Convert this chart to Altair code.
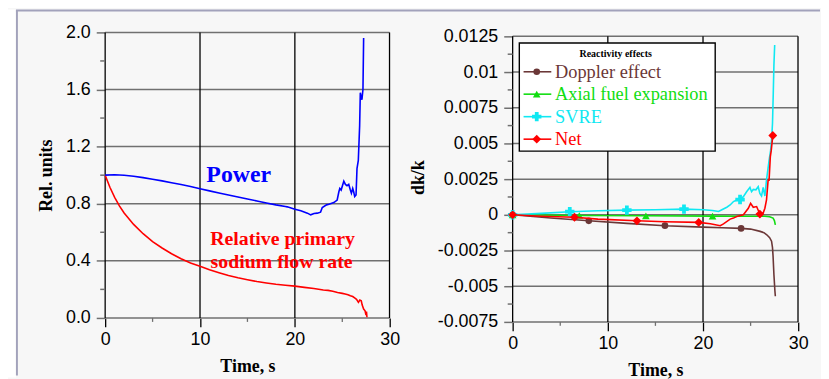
import altair as alt
import pandas as pd

# ---------------- Left panel data ----------------
power_t = [0, 1, 2, 3, 4, 5, 6, 7, 8, 9, 10, 11, 12, 13, 14, 15, 16, 17, 18, 19, 19.2, 20, 20.63,
           21.32, 21.67, 22.02, 22.37, 22.71, 22.89, 23.34, 23.59, 24.11, 24.46, 24.64, 24.74,
           24.88, 25.16, 25.33, 25.5, 25.68, 25.85, 25.96, 26.1, 26.2, 26.31, 26.45, 26.55,
           26.69, 26.83, 26.9, 27.0, 27.07, 27.18, 27.25]
power_v = [1.0, 1.003, 1.0, 0.993, 0.983, 0.972, 0.96, 0.947, 0.934, 0.92, 0.905, 0.89, 0.875,
           0.861, 0.847, 0.833, 0.819, 0.805, 0.792, 0.781, 0.778, 0.762, 0.75,
           0.734, 0.722, 0.731, 0.734, 0.741, 0.773, 0.792, 0.796, 0.808, 0.826, 0.884, 0.907,
           0.896, 0.958, 0.935, 0.926, 0.935, 0.896, 0.873, 0.907, 0.884, 0.85, 0.861, 1.046,
           1.104, 1.347, 1.578, 1.544, 1.528, 1.602, 1.96]

flow_t = [0, 0.5, 1, 1.5, 2, 3, 4, 5, 6, 7, 8, 9, 10, 11, 12, 13, 14, 15, 16, 17, 18, 19, 20,
          21, 22, 23, 23.5, 24, 24.5, 25, 25.3, 25.6, 25.85, 26.1, 26.3, 26.5, 26.7, 26.85,
          27.0, 27.1, 27.25, 27.4, 27.5, 27.55, 27.6]
flow_v = [1.0, 0.915, 0.845, 0.785, 0.735, 0.655, 0.59, 0.535, 0.49, 0.45, 0.415, 0.385, 0.362,
          0.338, 0.317, 0.297, 0.281, 0.268, 0.255, 0.245, 0.236, 0.229, 0.223,
          0.214, 0.206, 0.196, 0.193, 0.187, 0.178, 0.172, 0.168, 0.163, 0.155, 0.15, 0.14,
          0.13, 0.109, 0.125, 0.12, 0.09, 0.062, 0.05, 0.02, 0.045, 0.005]

# ---------------- Right panel data ----------------
dop_t = [0, 4, 8, 12, 16, 20, 22, 24, 25, 26, 26.4, 26.7, 27.0, 27.2, 27.3, 27.36, 27.45, 27.55, 27.6]
dop_v = [0, -0.00022, -0.00042, -0.0006, -0.00076, -0.00086, -0.0009, -0.00095, -0.001,
         -0.00116, -0.00125, -0.0014, -0.0016, -0.00185, -0.0023, -0.0029, -0.0042, -0.0053, -0.0057]
dop_mk_t = [0, 8, 16, 24]
dop_mk_v = [0, -0.00042, -0.00076, -0.00095]

axial_t = [0, 7, 14, 21, 25, 26.5, 27.0, 27.36, 27.5, 27.6]
axial_v = [0, -0.00005, -0.00007, -0.00009, -0.0001, -0.0001, -0.00013, -0.00023, -0.0004, -0.0007]
axial_mk_t = [0, 7, 14, 21]
axial_mk_v = [0, -0.00005, -0.00007, -0.00009]

svre_t = [0, 3, 6, 9, 12, 15, 18, 20.07, 21.0, 21.63, 21.98, 22.5, 22.85, 23.2, 23.54, 23.89,
          24.24, 24.58, 24.76, 24.93, 25.1, 25.28, 25.56, 25.8, 25.97, 26.15, 26.32, 26.5,
          26.67, 26.94, 27.1, 27.2, 27.3, 27.38, 27.45, 27.53]
svre_v = [0, 0.0001, 0.00022, 0.00028, 0.00033, 0.00036, 0.0004, 0.00035, 0.0003, 0.00023,
          0.00035, 0.00053, 0.00069, 0.00093, 0.00104, 0.00109, 0.00127, 0.00162, 0.00178,
          0.00192, 0.00162, 0.00178, 0.00175, 0.00197, 0.0015, 0.00132, 0.00192, 0.00132,
          0.00243, 0.00382, 0.0045, 0.0052, 0.0064, 0.0085, 0.0105, 0.0119]
svre_mk_t = [0, 6, 12, 18, 23.89]
svre_mk_v = [0, 0.00022, 0.00033, 0.0004, 0.00107]

net_t = [0, 3, 6.5, 8.96, 13.06, 16, 19.55, 20.77, 21.81, 22.15, 22.85, 23.2, 23.54, 24.24,
         24.76, 25.0, 25.28, 25.63, 25.97, 26.32, 26.5, 26.67, 26.84, 26.94, 27.07, 27.17, 27.33]
net_v = [0, -0.0001, -0.00017, -0.0003, -0.00042, -0.00048, -0.00053, -0.00063, -0.00076,
         -0.00063, -0.0003, -0.00023, -0.00012, 0.0, 0.00046, 0.0008, 0.00053, 0.00058,
         0.00005, 0.00012, 0.00046, 0.00104, 0.00243, 0.00243, 0.00405, 0.00451, 0.00556]
net_mk_t = [0, 6.5, 13.06, 19.55, 25.97, 27.33]
net_mk_v = [0, -0.00017, -0.00042, -0.00053, 0.00005, 0.00556]

series_names = ["Doppler effect", "Axial fuel expansion", "SVRE", "Net"]
series_colors = ["#6b3737", "#11dd11", "#10e8f2", "#ff0000"]
series_shapes = ["circle", "triangle-up", "cross", "diamond"]
series_sizes = [45, 60, 90, 80]

# tick values
left_y_major = [0.0, 0.4, 0.8, 1.2, 1.6, 2.0]
left_y_minor = [0.2, 0.6, 1.0, 1.4, 1.8]
right_y_major = [-0.0075, -0.005, -0.0025, 0, 0.0025, 0.005, 0.0075, 0.01, 0.0125]
right_y_labels = ["-0.0075", "-0.005", "-0.0025", "0", "0.0025", "0.005", "0.0075", "0.01", "0.0125"]
right_y_minor = [-0.00625, -0.00375, -0.00125, 0.00125, 0.00375, 0.00625, 0.00875, 0.01125]
x_major = [0, 10, 20, 30]
x_minor = [5, 15, 25]
# grid segments along x (split, the last one stopping a hair short of the edge)
grid_seg_lo = [0, 20]
grid_seg_hi = [20, 29.98]
vgrid_pos = [0, 10, 20, 29.98]

# ---------------- styling ----------------
GRID_GRAY = "#707070"
FRAME = "#a2a2bb"
LABEL_FONT = "Liberation Sans"
SERIF = "Liberation Serif"
L_W, L_H = 287, 288
R_W, R_H = 288, 292

def x_axis():
    return alt.Axis(
        values=x_major, grid=False, tickSize=9, tickColor="black", tickWidth=1.3,
        domain=False, labelFlush=False, labelOverlap=False,
        labelFont=LABEL_FONT, labelFontSize=18, labelColor="black", labelPadding=4,
        title="Time, s", titleFont=SERIF, titleFontSize=18, titleFontWeight="bold",
        titleColor="black", titlePadding=9)

def y_axis(values, title, fmt=None, expr=None):
    kw = {}
    if fmt is not None:
        kw["format"] = fmt
    if expr is not None:
        kw["labelExpr"] = expr
    return alt.Axis(
        values=values, grid=False, tickSize=9, tickColor=GRID_GRAY, tickWidth=1.5,
        domain=False, labelOverlap=False,
        labelFont=LABEL_FONT, labelFontSize=18, labelColor="black", labelPadding=6,
        title=title, titleFont=SERIF, titleFontSize=18, titleFontWeight="bold",
        titleColor="black", titlePadding=10, **kw)

R_YDOMAIN = [-0.0075, 0.0125 + 4 / 14400]
r_expr = ("['" + "','".join(right_y_labels) + "'][round((datum.value + 0.0075) * 400)]")

LX = alt.X("t:Q", scale=alt.Scale(domain=[0, 30], nice=False), axis=x_axis())
LY = alt.Y("v:Q", scale=alt.Scale(domain=[0, 2], nice=False),
           axis=y_axis(left_y_major, "Rel. units", fmt=".1f"))
RX = alt.X("t:Q", scale=alt.Scale(domain=[0, 30], nice=False), axis=x_axis())
RY = alt.Y("v:Q", scale=alt.Scale(domain=R_YDOMAIN, nice=False),
           axis=y_axis(right_y_major, "dk/k", expr=r_expr))

def tick_layers(X, Y, ymin, ymaj, ymin_vals, h):
    """grid rules + minor ticks, all placed through the scales"""
    rows = [(v, lo, hi) for v in ymaj for lo, hi in zip(grid_seg_lo, grid_seg_hi)]
    hg = alt.Chart(pd.DataFrame({"v": [r[0] for r in rows], "t": [r[1] for r in rows],
                                 "t2": [r[2] for r in rows]})).mark_rule(
        color=GRID_GRAY, strokeWidth=1.5).encode(x=X, x2="t2:Q", y=Y)
    vg = alt.Chart(pd.DataFrame({"t": vgrid_pos, "v": [ymin] * len(vgrid_pos),
                                 "hi": [ymaj[-1]] * len(vgrid_pos)})).mark_rule(
        color="black", strokeWidth=1.3).encode(x=X, y=Y, y2="hi:Q")
    ym = alt.Chart(pd.DataFrame({"v": ymin_vals})).mark_rule(
        color=GRID_GRAY, strokeWidth=1.5).encode(y=Y, x=alt.value(-5), x2=alt.value(0))
    xm = alt.Chart(pd.DataFrame({"t": x_minor})).mark_rule(
        color=GRID_GRAY, strokeWidth=1.3).encode(x=X, y=alt.value(h), y2=alt.value(h + 4))
    return [hg, vg, ym, xm]

# ---------------- Left panel ----------------
dummy = pd.DataFrame({"a": [0]})
frame_white = alt.Chart(dummy).mark_rect(color="white").encode(
    x=alt.value(-98), x2=alt.value(-90), y=alt.value(-23), y2=alt.value(348))
frame_left = alt.Chart(dummy).mark_rule(color=FRAME, strokeWidth=2).encode(
    x=alt.value(-89), y=alt.value(-22), y2=alt.value(346))
frame_top = alt.Chart(dummy).mark_rule(color=FRAME, strokeWidth=2).encode(
    x=alt.value(-90), x2=alt.value(721), y=alt.value(-22))

flow_df = pd.DataFrame({"t": flow_t, "v": flow_v})
power_df = pd.DataFrame({"t": power_t, "v": power_v})
flow_line = alt.Chart(flow_df).mark_line(color="#ff0000", strokeWidth=1.6).encode(x=LX, y=LY)
power_line = alt.Chart(power_df).mark_line(color="#0000ff", strokeWidth=1.6).encode(x=LX, y=LY)

power_lbl = pd.DataFrame({"t": [14.08], "v": [1.0], "txt": ["Power"]})
flow_lbl = pd.DataFrame({"t": [18.7, 18.6], "v": [0.556, 0.389],
                         "txt": ["Relative primary", "sodium flow rate"]})
power_text = alt.Chart(power_lbl).mark_text(
    font=SERIF, fontSize=24, fontWeight="bold", color="#0000ff").encode(x=LX, y=LY, text="txt:N")
flow_text = alt.Chart(flow_lbl).mark_text(
    font=SERIF, fontSize=20, fontWeight="bold", color="#ff0000").encode(x=LX, y=LY, text="txt:N")

left = alt.layer(frame_white, frame_left, frame_top,
                 *tick_layers(LX, LY, 0.0, left_y_major, left_y_minor, L_H),
                 flow_line, power_line, power_text, flow_text).properties(width=L_W, height=L_H)

# ---------------- Right panel ----------------
lines_df = pd.concat([
    pd.DataFrame({"t": dop_t, "v": dop_v, "s": series_names[0]}),
    pd.DataFrame({"t": axial_t, "v": axial_v, "s": series_names[1]}),
    pd.DataFrame({"t": svre_t, "v": svre_v, "s": series_names[2]}),
    pd.DataFrame({"t": net_t, "v": net_v, "s": series_names[3]}),
])
marks_df = pd.concat([
    pd.DataFrame({"t": dop_mk_t, "v": dop_mk_v, "s": series_names[0]}),
    pd.DataFrame({"t": axial_mk_t, "v": axial_mk_v, "s": series_names[1]}),
    pd.DataFrame({"t": svre_mk_t, "v": svre_mk_v, "s": series_names[2]}),
    pd.DataFrame({"t": net_mk_t, "v": net_mk_v, "s": series_names[3]}),
])

r_layers = tick_layers(RX, RY, -0.0075, right_y_major, right_y_minor, R_H)
for i, name in enumerate(series_names):
    r_layers.append(
        alt.Chart(lines_df[lines_df.s == name]).mark_line(
            color=series_colors[i], strokeWidth=1.6).encode(x=RX, y=RY))
    r_layers.append(
        alt.Chart(marks_df[marks_df.s == name]).mark_point(
            filled=True, opacity=1, shape=series_shapes[i], size=series_sizes[i],
            color=series_colors[i]).encode(x=RX, y=RY))

# manual legend (positions in data coordinates)
LEG_X0, LEG_X1 = 0.70, 21.28
LEG_Y0, LEG_Y1 = 0.004465, 0.012035
LEG_TITLE = (10.83, 0.01123)
LEG_ROWS = [0.01002, 0.008451, 0.006875, 0.005299]
LEG_LINE = (1.146, 4.06)
LEG_MARK_X = 2.53
LEG_TEXT_X = 4.45

box_df = pd.DataFrame({"t": [LEG_X0], "t2": [LEG_X1], "v": [LEG_Y0], "v2": [LEG_Y1]})
leg_box = alt.Chart(box_df).mark_rect(fill="white", stroke="black", strokeWidth=1.4).encode(
    x=RX, x2="t2:Q", y=RY, y2="v2:Q")
title_df = pd.DataFrame({"t": [LEG_TITLE[0]], "v": [LEG_TITLE[1]], "txt": ["Reactivity effects"]})
leg_title = alt.Chart(title_df).mark_text(
    font=SERIF, fontSize=10, fontWeight="bold", color="black").encode(x=RX, y=RY, text="txt:N")
r_layers += [leg_box, leg_title]
for i, name in enumerate(series_names):
    row = LEG_ROWS[i]
    ldf = pd.DataFrame({"t": [LEG_LINE[0]], "t2": [LEG_LINE[1]], "v": [row]})
    r_layers.append(alt.Chart(ldf).mark_rule(color=series_colors[i], strokeWidth=1.6).encode(
        x=RX, x2="t2:Q", y=RY))
    mdf = pd.DataFrame({"t": [LEG_MARK_X], "v": [row]})
    r_layers.append(alt.Chart(mdf).mark_point(
        filled=True, opacity=1, shape=series_shapes[i], size=series_sizes[i],
        color=series_colors[i]).encode(x=RX, y=RY))
    tdf = pd.DataFrame({"t": [LEG_TEXT_X], "v": [row], "txt": [name]})
    r_layers.append(alt.Chart(tdf).mark_text(
        font=SERIF, fontSize=18.5, align="left", baseline="middle",
        color=series_colors[i]).encode(x=RX, y=RY, text="txt:N"))

right = alt.layer(*r_layers).properties(width=R_W, height=R_H)

chart = alt.hconcat(left, right, spacing=124, bounds="flush",
                    padding={"left": 0, "top": 0, "right": 0, "bottom": 0}
                    ).configure(background="#f7f7f7").configure_view(stroke=None)

chart.save("out.html", embed_options={"renderer": "svg", "actions": False})
